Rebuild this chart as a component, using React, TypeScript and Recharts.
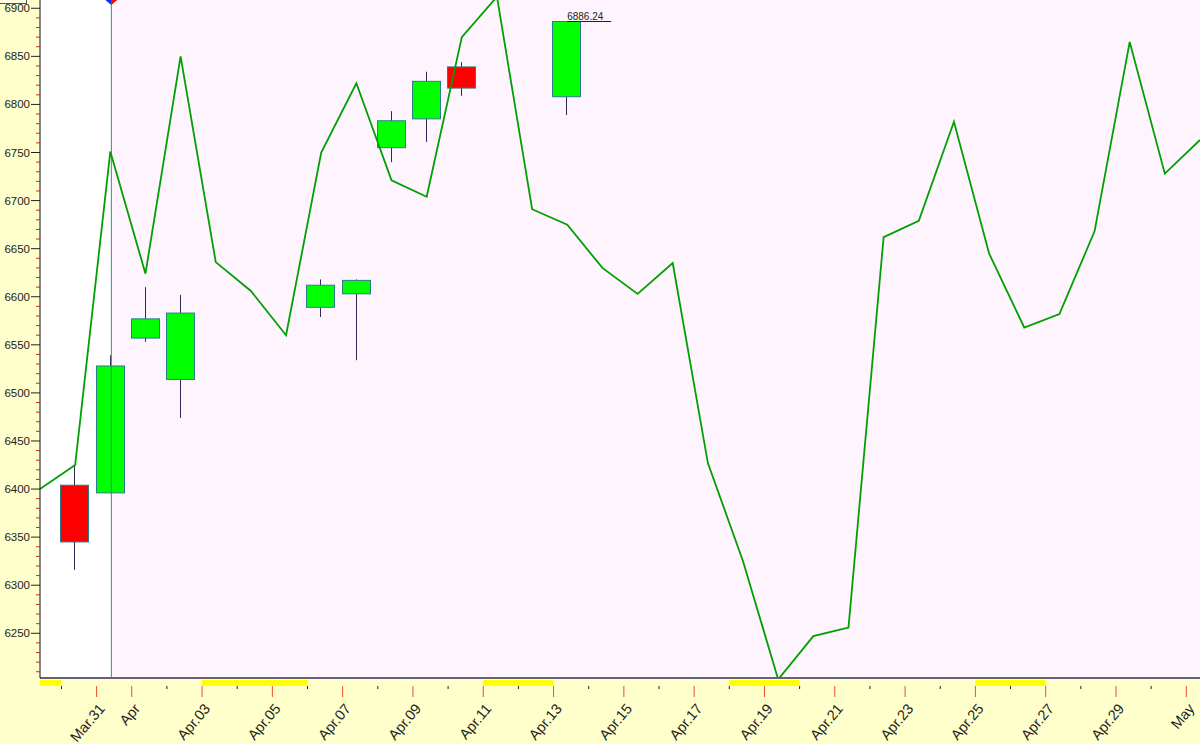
import {
  ComposedChart, Bar, Line, XAxis, YAxis, ReferenceArea, ReferenceLine, ReferenceDot,
} from "recharts";

// closing line, one value per session
const LINE_VALUES = [
  6400, 6425, 6751, 6624, 6850, 6636, 6606, 6560, 6750, 6822, 6721, 6704, 6870, 6912, 6691, 6675, 6630,
  6603, 6635, 6427, 6325, 6202, 6247, 6256, 6662, 6679, 6782, 6645, 6568, 6582, 6668, 6865, 6728, 6763,
];

// candles only exist for some sessions
const CANDLE_INDEX = [1, 2, 3, 4, 8, 9, 10, 11, 12, 15];
const CANDLE_OPEN = [6404, 6396, 6557, 6514, 6589, 6603, 6755, 6785, 6839, 6808];
const CANDLE_CLOSE = [6345, 6528, 6577, 6583, 6612, 6617, 6783, 6824, 6817, 6886.24];
const CANDLE_HIGH = [6425, 6539, 6610, 6602, 6618, 6618, 6793, 6834, 6844, 6886.24];
const CANDLE_LOW = [6316, 6396, 6553, 6474, 6579, 6534, 6740, 6761, 6809, 6789];

const TICK_OFFSET = 0.61;
const TICK_LABELS = [
  "", "Mar.31", "Apr", "", "Apr.03", "", "Apr.05", "", "Apr.07", "", "Apr.09", "", "Apr.11", "", "Apr.13", "",
  "Apr.15", "", "Apr.17", "", "Apr.19", "", "Apr.21", "", "Apr.23", "", "Apr.25", "", "Apr.27", "", "Apr.29", "", "May",
];
const WEEKENDS = [[-1, 0], [4, 7], [12, 14], [19, 21], [26, 28]];
const CURSOR_INDEX = 2.03;
const Y_MIN = 6203.5;
const Y_MAX = 6908.6;
const Y_TICKS = Array.from({ length: 70 }, (_, i) => 6210 + i * 10);

const data = LINE_VALUES.map((line, idx) => {
  const c = CANDLE_INDEX.indexOf(idx);
  if (c < 0) return { idx, line };
  return {
    idx,
    line,
    range: [CANDLE_LOW[c], CANDLE_HIGH[c]],
    open: CANDLE_OPEN[c],
    close: CANDLE_CLOSE[c],
  };
});

const FONT = "'Liberation Sans', Arial, sans-serif";

function Candle(props: any) {
  const { x, y, width, height, payload } = props;
  if (!payload.range) return null;
  const [low, high] = payload.range;
  const toY = (v: number) => y + ((high - v) / (high - low)) * height;
  const cx = Math.round(x + width / 2 - 1.2) + 0.5;
  const top = toY(Math.max(payload.open, payload.close));
  const bottom = toY(Math.min(payload.open, payload.close));
  const up = payload.close >= payload.open;
  return (
    <g>
      <line x1={cx} x2={cx} y1={y} y2={y + height} stroke="#2b2b55" strokeWidth={1} />
      <rect
        x={cx - 14}
        y={top}
        width={28}
        height={bottom - top}
        fill={up ? "#00ff00" : "#ff0000"}
        stroke="#2a7d8c"
        strokeWidth={1}
      />
    </g>
  );
}

function YTick(props: any) {
  const { y, payload } = props;
  const major = payload.value % 50 === 0;
  return (
    <g>
      <line x1={major ? 31 : 36} x2={40} y1={y} y2={y} stroke={major ? "#222" : "#d22a1a"} strokeWidth={1} />
      {major && (
        <text x={30} y={y + 4} textAnchor="end" fontSize={11.5} fontFamily={FONT} fill="#222">
          {payload.value}
        </text>
      )}
    </g>
  );
}

function XTick(props: any) {
  const { x, y, payload } = props;
  const label = TICK_LABELS[Math.round(payload.value - TICK_OFFSET)];
  return (
    <g>
      <line x1={x} x2={x} y1={y} y2={y + (label ? 11 : 3)} stroke={label ? "#e8502a" : "#222"} strokeWidth={1} />
      {label && (
        <text
          x={x + 9}
          y={y + 23}
          textAnchor="end"
          fontSize={14.5}
          fontFamily={FONT}
          fill="#222"
          transform={`rotate(-50 ${x + 9} ${y + 23})`}
        >
          {label}
        </text>
      )}
    </g>
  );
}

function Marker(props: any) {
  const { cx } = props;
  return (
    <g>
      <path d={`M${cx - 6} 0 L${cx} 0 L${cx} 5 Z`} fill="#1030e0" />
      <path d={`M${cx} 0 L${cx + 6} 0 L${cx} 5 Z`} fill="#e01010" />
    </g>
  );
}

function PriceLabel(props: any) {
  const { viewBox } = props;
  return (
    <text x={viewBox.x + 18} y={viewBox.y - 2} textAnchor="middle" fontSize={10} fontFamily={FONT} fill="#222">
      6886.24
    </text>
  );
}

export default function App() {
  return (
    <div style={{ position: "absolute", left: 0, top: 0, width: 1200, height: 744, background: "#ffffcc", overflow: "hidden" }}>
      <div style={{ position: "absolute", left: 0, top: 0, width: 26, height: 3, background: "#ffffe8", borderRight: "1px solid #555", borderBottom: "1px solid #555" }} />
      <div style={{ position: "absolute", left: 1143, top: 0, width: 57, height: 2, background: "#eee" }} />
      <ComposedChart width={1200} height={744} data={data} margin={{ top: 0, right: 0, bottom: 0, left: 0 }}>
        <XAxis
          dataKey="idx"
          type="number"
          domain={[0, 33]}
          ticks={TICK_LABELS.map((_, i) => i + TICK_OFFSET)}
          interval={0}
          height={66}
          tick={<XTick />}
          tickLine={false}
          axisLine={{ stroke: "#66607a", strokeWidth: 2 }}
        />
        <YAxis
          type="number"
          domain={[Y_MIN, Y_MAX]}
          allowDataOverflow
          ticks={Y_TICKS}
          interval={0}
          width={40}
          tick={<YTick />}
          tickLine={false}
          axisLine={{ stroke: "#111", strokeWidth: 1 }}
        />
        <ReferenceArea x1={0} x2={CURSOR_INDEX} y1={Y_MIN} y2={Y_MAX} fill="#ffffff" fillOpacity={1} stroke="none" />
        <ReferenceArea x1={CURSOR_INDEX} x2={33} y1={Y_MIN} y2={Y_MAX} fill="#fdf4fe" fillOpacity={1} stroke="none" />
        {WEEKENDS.map(([a, b]) => (
          <ReferenceArea
            key={a}
            x1={Math.max(a + TICK_OFFSET, 0)}
            x2={b + TICK_OFFSET}
            y1={Y_MIN - 2}
            y2={Y_MIN - 8}
            ifOverflow="visible"
            fill="#ffff00"
            fillOpacity={1}
            stroke="none"
          />
        ))}
        <ReferenceLine x={CURSOR_INDEX} stroke="#3d8a8f" strokeWidth={1} />
        <ReferenceDot x={CURSOR_INDEX} y={Y_MAX} ifOverflow="visible" shape={<Marker />} />
        <Bar dataKey="range" barSize={28} shape={<Candle />} isAnimationActive={false} />
        <Line
          dataKey="line"
          stroke="#00a000"
          strokeWidth={1.8}
          dot={false}
          activeDot={false}
          isAnimationActive={false}
        />
        <ReferenceLine
          segment={[{ x: 15, y: 6886.24 }, { x: 16.25, y: 6886.24 }]}
          stroke="#222"
          strokeWidth={1}
          label={<PriceLabel />}
        />
      </ComposedChart>
    </div>
  );
}
